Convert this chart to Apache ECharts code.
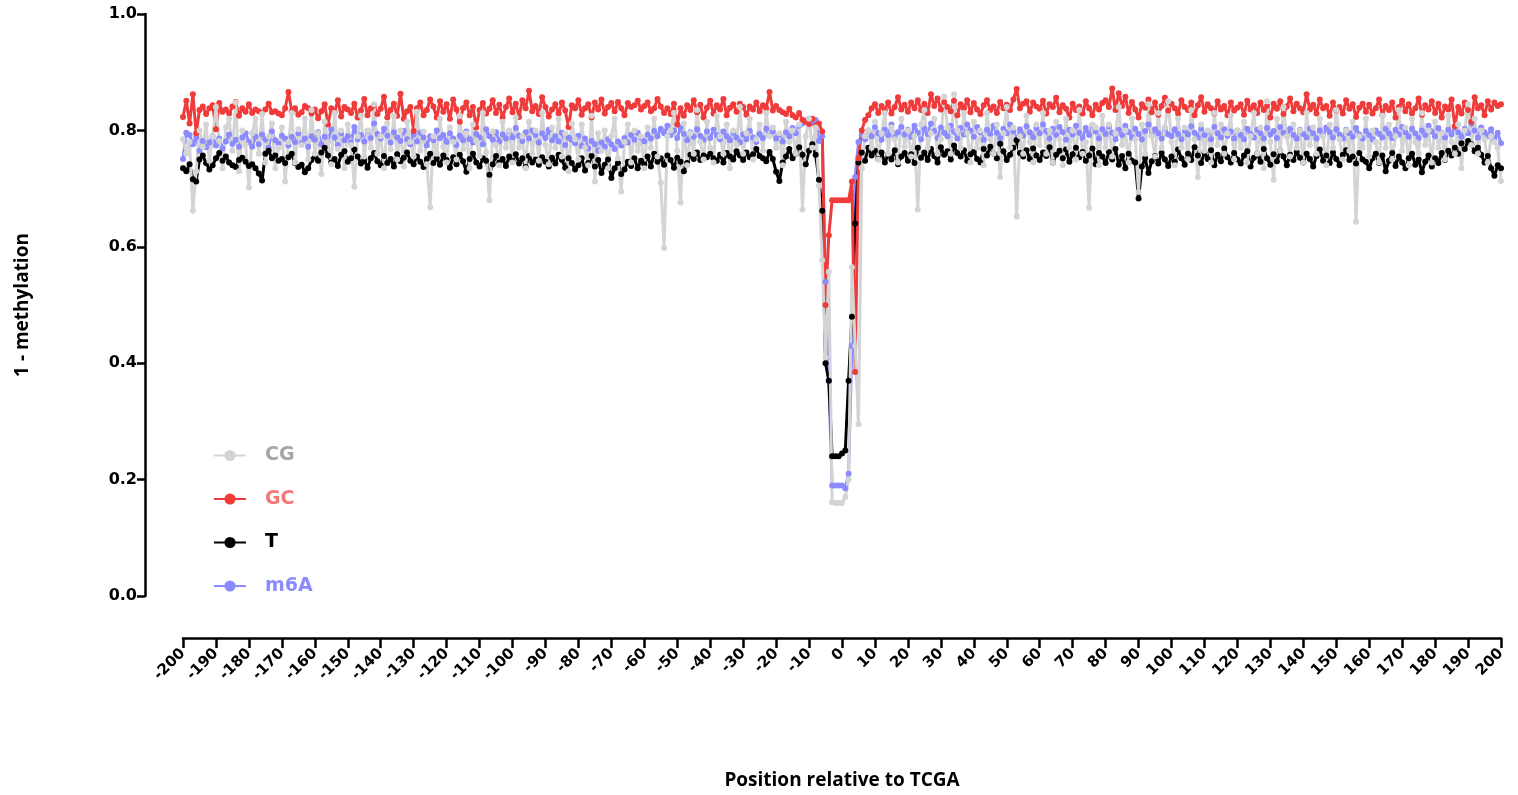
<!DOCTYPE html>
<html>
<head>
<meta charset="utf-8">
<script src="https://cdn.jsdelivr.net/npm/echarts@6/dist/echarts.min.js"></script>
<style>
  html, body { margin: 0; padding: 0; background: #fff; }
  #chart { width: 1518px; height: 795px; }
</style>
</head>
<body>
<div id="chart"></div>
<script>
// Positions relative to the TCGA site, -200 .. 200
const positions = [];
for (let p = -200; p <= 200; p++) positions.push(p);

// 1 - methylation per context, one value per position
const cgValues = [
  .785,.760,.780,.662,.730,.800,.772,.810,.748,.790,.840,.782,.735,.805,.820,.765,.848,.730,.800,.775,
  .702,.795,.820,.760,.828,.745,.790,.812,.735,.770,.805,.712,.780,.830,.745,.802,.775,.820,.750,.835,
  .760,.795,.725,.815,.780,.742,.830,.768,.800,.735,.810,.775,.703,.790,.825,.755,.800,.770,.845,.760,
  .790,.735,.812,.768,.825,.750,.800,.738,.815,.780,.755,.832,.765,.798,.742,.668,.790,.760,.820,.772,
  .745,.805,.780,.750,.825,.768,.795,.735,.810,.782,.756,.830,.762,.680,.798,.775,.740,.815,.770,.800,
  .745,.822,.770,.790,.735,.815,.760,.800,.748,.830,.775,.742,.805,.770,.820,.755,.795,.730,.812,.785,
  .750,.810,.770,.740,.825,.712,.795,.765,.800,.735,.790,.820,.752,.695,.780,.810,.745,.800,.765,.790,
  .735,.805,.770,.820,.755,.710,.598,.790,.800,.830,.765,.676,.812,.740,.795,.760,.835,.780,.750,.815,
  .770,.745,.825,.790,.760,.810,.735,.800,.775,.840,.760,.795,.820,.750,.785,.810,.765,.830,.790,.805,
  .770,.795,.740,.815,.780,.800,.760,.810,.664,.790,.820,.770,.805,.705,.577,.410,.557,.161,.160,.160,
  .160,.170,.200,.565,.430,.295,.735,.790,.800,.770,.815,.750,.795,.830,.760,.805,.785,.745,.820,.772,
  .800,.755,.790,.664,.810,.835,.770,.795,.820,.760,.785,.858,.805,.760,.862,.800,.770,.830,.795,.745,
  .815,.770,.800,.740,.830,.785,.760,.810,.720,.795,.840,.770,.805,.652,.790,.760,.825,.780,.745,.810,
  .775,.830,.760,.800,.745,.815,.785,.740,.820,.770,.800,.750,.835,.760,.780,.667,.810,.805,.740,.825,
  .770,.810,.755,.795,.840,.775,.800,.745,.820,.785,.694,.810,.760,.845,.790,.755,.830,.770,.805,.850,
  .780,.740,.820,.770,.805,.750,.835,.785,.720,.810,.765,.800,.745,.830,.775,.810,.760,.795,.825,.750,
  .800,.770,.815,.745,.790,.830,.760,.805,.735,.850,.780,.715,.820,.765,.840,.790,.755,.810,.770,.800,
  .745,.830,.775,.805,.760,.820,.790,.740,.810,.770,.835,.785,.750,.800,.765,.815,.643,.790,.770,.820,
  .755,.800,.780,.745,.825,.770,.810,.750,.790,.835,.765,.805,.740,.820,.780,.760,.830,.775,.800,.745,
  .815,.770,.795,.750,.825,.780,.760,.810,.735,.800,.845,.775,.820,.760,.800,.785,.745,.790,.780,.770,
  .713
];

const gcValues = [
  .823,.851,.812,.862,.795,.835,.841,.828,.838,.843,.802,.847,.832,.836,.829,.841,.849,.825,.838,.832,
  .845,.830,.836,.833,.829,.836,.846,.831,.833,.829,.826,.838,.866,.833,.838,.827,.831,.842,.838,.829,
  .836,.821,.833,.845,.810,.838,.831,.852,.824,.840,.836,.830,.846,.822,.834,.854,.826,.838,.843,.828,
  .837,.858,.822,.835,.846,.825,.863,.820,.833,.840,.799,.838,.848,.826,.835,.853,.841,.822,.850,.832,
  .845,.820,.853,.836,.815,.838,.848,.826,.840,.805,.835,.847,.829,.837,.852,.830,.844,.822,.840,.855,
  .831,.846,.823,.852,.838,.868,.833,.842,.828,.857,.840,.824,.836,.845,.829,.848,.834,.806,.843,.838,
  .852,.827,.838,.845,.822,.848,.836,.853,.829,.840,.847,.833,.849,.838,.826,.847,.840,.843,.851,.836,
  .842,.848,.833,.838,.854,.841,.830,.838,.828,.846,.810,.838,.825,.843,.835,.852,.831,.844,.822,.839,
  .851,.829,.843,.836,.854,.826,.839,.845,.832,.846,.840,.827,.841,.836,.848,.833,.843,.838,.866,.834,
  .842,.835,.831,.828,.837,.826,.822,.830,.818,.815,.811,.820,.808,.812,.798,.500,.620,.680,.680,.680,
  .680,.680,.680,.712,.385,.752,.800,.818,.826,.838,.845,.830,.842,.835,.848,.829,.840,.857,.836,.844,
  .832,.848,.838,.852,.835,.846,.830,.862,.842,.855,.836,.849,.840,.833,.851,.826,.845,.838,.852,.831,
  .847,.836,.828,.843,.852,.835,.841,.830,.849,.838,.844,.835,.853,.871,.838,.846,.850,.832,.848,.841,
  .837,.851,.829,.845,.840,.856,.831,.843,.837,.822,.846,.835,.841,.829,.850,.838,.826,.844,.836,.847,
  .852,.840,.872,.835,.864,.842,.858,.830,.849,.836,.822,.845,.839,.853,.831,.848,.827,.842,.856,.834,
  .846,.838,.829,.852,.840,.835,.848,.826,.843,.857,.832,.845,.838,.829,.850,.836,.842,.826,.848,.834,
  .839,.845,.827,.851,.836,.843,.830,.848,.835,.842,.822,.846,.837,.850,.828,.841,.855,.833,.846,.838,
  .831,.862,.836,.844,.829,.853,.838,.842,.825,.848,.834,.840,.829,.852,.837,.845,.823,.839,.846,.832,
  .844,.829,.838,.853,.826,.842,.835,.848,.822,.840,.851,.833,.845,.829,.838,.855,.827,.843,.836,.850,
  .830,.846,.822,.841,.836,.853,.807,.840,.829,.848,.835,.815,.857,.838,.843,.826,.850,.836,.848,.842,
  .845
];

const tValues = [
  .735,.730,.742,.716,.712,.750,.757,.744,.733,.740,.752,.761,.748,.755,.745,.740,.737,.749,.753,.746,
  .739,.742,.735,.726,.714,.760,.765,.752,.757,.748,.751,.744,.754,.760,.744,.737,.741,.728,.735,.749,
  .755,.748,.762,.770,.757,.745,.751,.739,.758,.764,.746,.752,.767,.755,.743,.749,.736,.752,.761,.747,
  .740,.756,.744,.751,.738,.759,.747,.753,.762,.748,.742,.755,.746,.737,.751,.760,.744,.752,.741,.757,
  .749,.736,.754,.742,.758,.747,.729,.751,.760,.745,.738,.752,.748,.724,.742,.756,.745,.751,.739,.755,
  .748,.759,.743,.752,.737,.756,.745,.750,.741,.754,.746,.738,.753,.743,.758,.749,.736,.752,.744,.733,
  .740,.752,.731,.744,.756,.738,.749,.727,.741,.750,.718,.735,.744,.725,.733,.746,.739,.752,.735,.748,
  .742,.755,.738,.760,.746,.752,.741,.757,.749,.736,.753,.746,.730,.744,.758,.751,.762,.749,.757,.754,
  .760,.752,.748,.758,.745,.761,.755,.750,.764,.757,.749,.762,.754,.759,.768,.756,.752,.747,.763,.751,
  .729,.713,.745,.755,.768,.752,.760,.771,.758,.742,.765,.776,.758,.715,.662,.400,.370,.240,.240,.240,
  .245,.250,.370,.480,.640,.745,.762,.748,.770,.757,.765,.751,.762,.745,.758,.750,.766,.742,.755,.761,
  .748,.759,.744,.770,.753,.762,.749,.768,.756,.745,.771,.758,.764,.750,.774,.761,.755,.766,.748,.759,
  .763,.751,.745,.768,.757,.772,.760,.752,.777,.764,.749,.758,.770,.783,.761,.755,.766,.751,.769,.757,
  .749,.762,.756,.771,.745,.758,.765,.752,.767,.746,.759,.770,.754,.763,.748,.757,.769,.742,.761,.755,
  .744,.763,.750,.768,.741,.756,.735,.760,.748,.745,.683,.738,.752,.727,.747,.756,.743,.761,.750,.739,
  .755,.746,.767,.752,.741,.760,.749,.771,.757,.744,.762,.751,.766,.740,.758,.747,.769,.754,.745,.761,
  .750,.743,.757,.764,.738,.753,.760,.746,.768,.752,.741,.759,.747,.765,.755,.740,.758,.749,.763,.753,
  .745,.760,.751,.738,.756,.767,.748,.757,.744,.762,.751,.740,.758,.766,.749,.755,.743,.761,.750,.746,
  .735,.752,.760,.744,.757,.730,.748,.761,.739,.755,.745,.735,.752,.760,.741,.750,.728,.746,.757,.738,
  .752,.744,.761,.749,.765,.757,.770,.760,.778,.768,.782,.776,.764,.770,.758,.745,.756,.735,.722,.740,
  .735
];

const m6aValues = [
  .751,.796,.792,.776,.788,.765,.782,.771,.779,.790,.774,.786,.769,.781,.793,.777,.784,.772,.788,.795,
  .780,.772,.789,.776,.793,.785,.770,.798,.783,.777,.791,.786,.774,.789,.780,.795,.778,.786,.772,.790,
  .784,.797,.776,.789,.781,.802,.788,.775,.795,.783,.790,.779,.806,.785,.792,.781,.799,.787,.812,.794,
  .786,.803,.791,.779,.797,.788,.782,.799,.785,.776,.793,.781,.796,.788,.774,.790,.783,.800,.787,.792,
  .780,.795,.786,.775,.791,.783,.798,.785,.779,.794,.788,.776,.802,.790,.784,.797,.781,.793,.786,.799,
  .788,.804,.791,.782,.797,.786,.800,.792,.779,.795,.787,.801,.783,.790,.781,.796,.775,.788,.784,.778,
  .791,.773,.786,.769,.782,.776,.765,.779,.772,.785,.776,.768,.781,.774,.787,.779,.792,.784,.796,.788,
  .781,.793,.786,.799,.790,.803,.795,.808,.792,.800,.787,.805,.794,.783,.797,.789,.802,.791,.784,.798,
  .787,.801,.792,.785,.798,.790,.783,.796,.788,.779,.793,.785,.799,.788,.780,.794,.787,.803,.791,.798,
  .786,.793,.781,.797,.790,.804,.795,.808,.812,.817,.820,.813,.818,.782,.790,.540,.370,.190,.190,.190,
  .190,.185,.210,.430,.720,.780,.792,.785,.800,.790,.806,.795,.784,.801,.792,.810,.788,.797,.806,.793,
  .801,.789,.808,.796,.785,.803,.794,.812,.799,.787,.805,.796,.790,.808,.798,.786,.804,.793,.810,.800,
  .789,.806,.797,.784,.801,.793,.808,.796,.787,.803,.795,.810,.798,.785,.802,.791,.807,.797,.788,.804,
  .795,.810,.799,.786,.803,.792,.806,.797,.784,.801,.793,.808,.796,.787,.804,.792,.809,.798,.786,.802,
  .794,.807,.796,.785,.801,.792,.808,.797,.788,.803,.794,.785,.799,.810,.791,.802,.795,.786,.804,.793,
  .790,.802,.794,.785,.800,.793,.807,.796,.788,.803,.792,.799,.785,.806,.795,.788,.802,.791,.798,.786,
  .800,.792,.785,.803,.794,.788,.801,.795,.786,.804,.793,.799,.787,.806,.796,.790,.803,.792,.786,.801,
  .794,.788,.803,.795,.786,.800,.791,.805,.797,.788,.802,.793,.786,.801,.795,.789,.804,.793,.786,.799,
  .792,.785,.800,.794,.788,.803,.795,.787,.801,.793,.806,.797,.789,.803,.795,.787,.800,.792,.808,.798,
  .790,.804,.796,.788,.801,.793,.807,.797,.789,.803,.795,.812,.800,.788,.805,.797,.790,.802,.784,.796,
  .778
];

const seriesNames = ['CG', 'GC', 'T', 'm6A'];
const lineColors = { CG: '#d4d4d4', GC: '#f03b3b', T: '#000000', m6A: '#8b8bff' };
const legendTextColors = { CG: '#a6a6a6', GC: '#f47878', T: '#000000', m6A: '#8b8bff' };
const valuesByName = { CG: cgValues, GC: gcValues, T: tValues, m6A: m6aValues };

const yTicks = [0, 0.2, 0.4, 0.6, 0.8, 1.0];

function pairs(vals) {
  return positions.map((p, i) => [p, vals[i]]);
}

// draw order: m6A at the bottom, CG on top
const drawOrder = ['m6A', 'T', 'GC', 'CG'];

const chart = echarts.init(document.getElementById('chart'), null, { renderer: 'canvas' });

chart.setOption({
  animation: false,
  backgroundColor: '#ffffff',
  grid: { left: 183, right: 17, top: 14, bottom: 192, containLabel: false },
  xAxis: {
    type: 'value',
    min: -200, max: 200, interval: 10,
    offset: 42,
    axisLine: { show: true, onZero: false, lineStyle: { color: '#000', width: 2.5 } },
    axisTick: { show: true, length: 10, lineStyle: { color: '#000', width: 2.5 } },
    splitLine: { show: false },
    axisLabel: {
      rotate: 45, margin: 13,
      fontFamily: 'DejaVu Sans', fontWeight: 'bold', fontSize: 15, color: '#000',
      formatter: v => String(v)
    },
    name: 'Position relative to TCGA',
    nameLocation: 'middle', nameGap: 133,
    nameTextStyle: { fontFamily: 'Open Sans', fontWeight: 'bold', fontSize: 19, color: '#000' }
  },
  yAxis: {
    type: 'value',
    min: 0, max: 1, interval: 0.2,
    offset: 38,
    axisLine: { show: true, onZero: false, lineStyle: { color: '#000', width: 2.5 } },
    axisTick: { show: true, length: 8, lineStyle: { color: '#000', width: 2.5 } },
    splitLine: { show: false },
    axisLabel: {
      margin: 8,
      fontFamily: 'DejaVu Sans', fontWeight: 'bold', fontSize: 16, color: '#000',
      formatter: v => yTicks.includes(Math.round(v * 10) / 10) ? v.toFixed(1) : ''
    },
    name: '1 - methylation',
    nameLocation: 'middle', nameGap: 113, nameRotate: 90,
    nameTextStyle: { fontFamily: 'Open Sans', fontWeight: 'bold', fontSize: 19, color: '#000' }
  },
  legend: {
    orient: 'vertical',
    left: 208, top: 441,
    itemWidth: 32, itemHeight: 14, itemGap: 24.5,
    data: seriesNames.map(n => ({
      name: n,
      textStyle: { color: legendTextColors[n] }
    })),
    textStyle: {
      fontFamily: 'DejaVu Sans', fontWeight: 'bold', fontSize: 19,
      padding: [0, 0, 0, 14]
    }
  },
  series: drawOrder.map(n => ({
    name: n,
    type: 'line',
    data: pairs(valuesByName[n]),
    symbol: 'circle',
    symbolSize: 6,
    showSymbol: true,
    lineStyle: { color: lineColors[n], width: 3 },
    itemStyle: { color: lineColors[n] },
    emphasis: { disabled: true }
  }))
});
</script>
</body>
</html>
